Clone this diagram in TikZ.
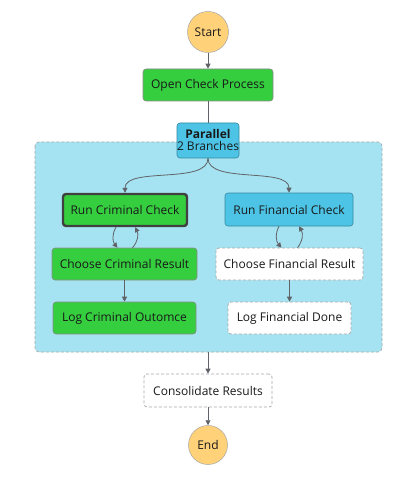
\documentclass[tikz,border=0pt]{standalone}
\usepackage{fontspec}
\setmainfont{Open Sans}
\usetikzlibrary{arrows.meta}
\definecolor{okgreen}{HTML}{34CE3F}
\definecolor{runblue}{HTML}{4DC4E6}
\definecolor{parfill}{HTML}{A6E3F2}
\definecolor{startorange}{HTML}{FFD27A}
\definecolor{edgegray}{HTML}{5F6368}
\definecolor{dashgray}{HTML}{A8A8A8}
\tikzset{
  base/.style={rectangle, rounded corners=3pt, font=\fontsize{12}{14}\selectfont, text=black!90, inner sep=0pt, anchor=center},
  donebox/.style={base, fill=okgreen, draw=black!45, line width=0.6pt},
  runbox/.style={base, fill=runblue, draw=runblue!70!black, line width=0.6pt},
  activebox/.style={base, fill=okgreen, draw=black!75, line width=2.4pt},
  idlebox/.style={base, fill=white, draw=dashgray, dashed, dash pattern=on 3pt off 2pt, line width=0.7pt},
  term/.style={circle, fill=startorange, draw=black!35, line width=0.5pt, font=\fontsize{12}{14}\selectfont, text=black!90, inner sep=0pt},
  conn/.style={draw=edgegray, line width=0.8pt, -{Triangle[length=5pt,width=5pt]}},
  plain/.style={draw=edgegray, line width=0.8pt}
}
\begin{document}
\begin{tikzpicture}[x=1pt,y=-1pt]
\path[use as bounding box, fill=white] (0,0) rectangle (407,486);
% container
\path[fill=parfill, draw=dashgray, dashed, dash pattern=on 3pt off 2pt, line width=0.7pt, rounded corners=4pt] (35,142) rectangle (382,352);

\node[term, minimum size=41pt] (start) at (208,32) {Start};
\node[donebox, minimum width=130pt, minimum height=32pt] (open) at (208,85) {Open Check Process};
\node[runbox, minimum width=62pt, minimum height=35pt, align=center] (par) at (208,140.5) {\textbf{Parallel}\\[-2pt]2 Branches};

\node[activebox, minimum width=124pt, minimum height=32pt] (rcc) at (125,210) {Run Criminal Check};
\node[runbox, minimum width=128pt, minimum height=33pt] (rfc) at (289,209.5) {Run Financial Check};
\node[donebox, minimum width=145pt, minimum height=32pt] (ccr) at (124.5,264) {Choose Criminal Result};
\node[idlebox, minimum width=147pt, minimum height=32pt] (cfr) at (289.5,264) {Choose Financial Result};
\node[donebox, minimum width=143pt, minimum height=32pt] (lco) at (124.5,318) {Log Criminal Outomce};
\node[idlebox, minimum width=123pt, minimum height=32pt] (lfd) at (289.5,318) {Log Financial Done};

\node[idlebox, minimum width=128pt, minimum height=33pt] (cons) at (208,390.5) {Consolidate Results};
\node[term, minimum size=39pt] (end) at (208,445) {End};

\coordinate (pbot) at (208,352);

\draw[conn] (start) -- (open);
\draw[plain] (open) -- (par);
\draw[conn] (par.south) to[out=-90,in=90,looseness=0.75] (rcc.north);
\draw[conn] (par.south) to[out=-90,in=90,looseness=0.75] (rfc.north);

\draw[conn] ([xshift=-9pt]rcc.south) to[bend right=35] ([xshift=-7pt]ccr.north);
\draw[conn] ([xshift=8pt]ccr.north) to[bend right=35] ([xshift=10pt]rcc.south);
\draw[conn] ([xshift=-10pt]rfc.south) to[bend right=35] ([xshift=-8pt]cfr.north);
\draw[conn] ([xshift=8pt]cfr.north) to[bend right=35] ([xshift=10pt]rfc.south);

\draw[conn] (ccr) -- (lco);
\draw[conn] (cfr) -- (lfd);
\draw[conn] (pbot) -- (cons);
\draw[conn] (cons) -- (end);
\end{tikzpicture}
\end{document}
